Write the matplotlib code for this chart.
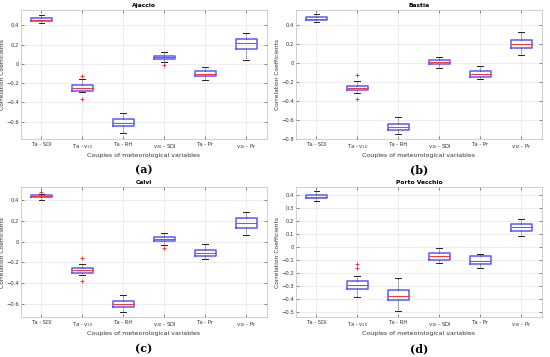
import matplotlib
matplotlib.use("Agg")
import matplotlib.pyplot as plt
from matplotlib.ticker import FuncFormatter

PAIRS = ["Ta - SDI", "Ta - v$_{10}$", "Ta - RH", "v$_{10}$ - SDI", "Ta - Pr", "v$_{10}$ - Pr"]
STATIONS = ["Ajaccio", "Bastia", "Calvi", "Porto Vecchio"]
PANELS = ["(a)", "(b)", "(c)", "(d)"]

# per station: median, q1, q3, lower whisker, upper whisker, outliers
AJA_MED = [0.459, -0.252, -0.614, 0.069, -0.103, 0.214]
AJA_Q1 = [0.445, -0.279, -0.645, 0.048, -0.131, 0.152]
AJA_Q3 = [0.472, -0.224, -0.572, 0.086, -0.072, 0.255]
AJA_LO = [0.428, -0.293, -0.717, 0.017, -0.166, 0.038]
AJA_HI = [0.503, -0.155, -0.514, 0.124, -0.034, 0.324]
AJA_OUT = [[], [-0.128, -0.362], [], [-0.014], [], []]

BAS_MED = [0.468, -0.262, -0.674, 0.011, -0.117, 0.206]
BAS_Q1 = [0.454, -0.287, -0.709, -0.011, -0.149, 0.160]
BAS_Q3 = [0.482, -0.238, -0.642, 0.028, -0.089, 0.241]
BAS_LO = [0.436, -0.316, -0.748, -0.053, -0.170, 0.085]
BAS_HI = [0.518, -0.190, -0.571, 0.064, -0.028, 0.333]
BAS_OUT = [[], [-0.128, -0.379], [], [], [], []]

CAL_MED = [0.441, -0.276, -0.607, 0.029, -0.114, 0.179]
CAL_Q1 = [0.430, -0.299, -0.636, 0.006, -0.143, 0.130]
CAL_Q3 = [0.452, -0.256, -0.578, 0.049, -0.081, 0.230]
CAL_LO = [0.407, -0.325, -0.685, -0.032, -0.172, 0.068]
CAL_HI = [0.460, -0.214, -0.513, 0.084, -0.023, 0.289]
CAL_OUT = [[0.480], [-0.162, -0.377], [], [-0.062], [], []]

PV_MED = [0.390, -0.293, -0.375, -0.071, -0.107, 0.153]
PV_Q1 = [0.378, -0.321, -0.406, -0.102, -0.133, 0.125]
PV_Q3 = [0.401, -0.263, -0.332, -0.048, -0.071, 0.176]
PV_LO = [0.357, -0.385, -0.490, -0.120, -0.163, 0.087]
PV_HI = [0.431, -0.224, -0.237, -0.008, -0.051, 0.219]
PV_OUT = [[], [-0.130, -0.158], [], [], [], []]

YLIMS = [(-0.78, 0.56), (-0.8, 0.56), (-0.73, 0.53), (-0.54, 0.465)]
YSTEPS = [0.2, 0.2, 0.2, 0.1]


def make_stats(med, q1, q3, lo, hi, out):
    return [dict(med=m, q1=a, q3=b, whislo=l, whishi=h, fliers=f)
            for m, a, b, l, h, f in zip(med, q1, q3, lo, hi, out)]


def main():
    data = [
        make_stats(AJA_MED, AJA_Q1, AJA_Q3, AJA_LO, AJA_HI, AJA_OUT),
        make_stats(BAS_MED, BAS_Q1, BAS_Q3, BAS_LO, BAS_HI, BAS_OUT),
        make_stats(CAL_MED, CAL_Q1, CAL_Q3, CAL_LO, CAL_HI, CAL_OUT),
        make_stats(PV_MED, PV_Q1, PV_Q3, PV_LO, PV_HI, PV_OUT),
    ]
    fig = plt.figure(figsize=(5.5, 3.57), dpi=100)
    positions = [
        [0.038, 0.611, 0.447, 0.361],
        [0.538, 0.611, 0.447, 0.361],
        [0.038, 0.112, 0.447, 0.364],
        [0.538, 0.112, 0.447, 0.364],
    ]
    for i, stats in enumerate(data):
        ax = fig.add_axes(positions[i])
        ax.bxp(
            stats, positions=range(1, 7), widths=0.5, capwidths=0.14,
            boxprops=dict(color="#5a5aff", linewidth=1.1),
            medianprops=dict(color="#ff3030", linewidth=0.7),
            whiskerprops=dict(color="#222222", linewidth=0.6, linestyle=(0, (1, 1.5))),
            capprops=dict(color="#222222", linewidth=0.7),
            flierprops=dict(marker="+", markeredgecolor="#ff2020",
                            markersize=2.5, markeredgewidth=0.6, linestyle="none"),
        )
        ax.set_xlim(0.5, 6.5)
        ax.set_ylim(*YLIMS[i])
        step = YSTEPS[i]
        lo, hi = YLIMS[i]
        ticks = [round(k * step, 2) for k in range(int(lo / step) - 1, int(hi / step) + 2)
                 if lo - 1e-9 <= k * step <= hi + 1e-9]
        ax.set_yticks(ticks)
        ax.yaxis.set_major_formatter(
            FuncFormatter(lambda v, p: f"{v:g}".replace("-", "\u2212")))
        ax.set_xticks(range(1, 7))
        ax.set_xticklabels(PAIRS)
        ax.tick_params(labelsize=3.8, direction="in", length=2, width=0.4,
                       colors="#333333", top=True, right=True, pad=2)
        ax.tick_params(axis="y", pad=1.5)
        ax.grid(True, color="#e6e6e6", linewidth=0.5)
        ax.set_axisbelow(True)
        for s in ax.spines.values():
            s.set_color("#c8c8c8")
            s.set_linewidth(0.6)
        ax.set_title(STATIONS[i], fontsize=4.3, fontweight="bold", pad=2.5)
        ax.set_xlabel("Couples of meteorological variables", fontsize=4.5,
                      color="#333333", labelpad=2)
        ax.set_ylabel("Correlation Coefficients", fontsize=4.3,
                      color="#333333", labelpad=1)
        ax.text(0.5, -0.2, PANELS[i], transform=ax.transAxes, ha="center",
                va="top", fontsize=8, family="DejaVu Serif", fontweight="bold")
    fig.savefig("out.png", dpi=100, facecolor="white")


if __name__ == "__main__":
    main()
